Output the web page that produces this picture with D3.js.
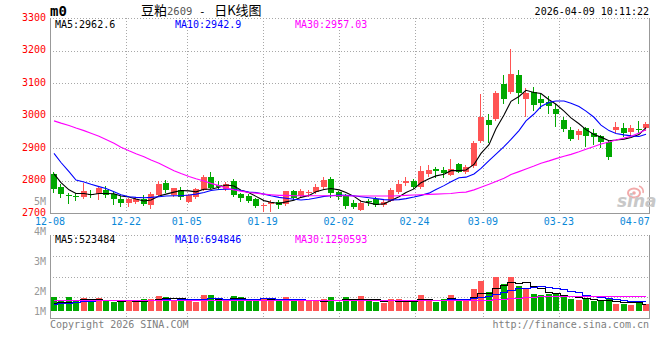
<!DOCTYPE html>
<html><head><meta charset="utf-8">
<script src="https://cdn.jsdelivr.net/npm/d3@7"></script>
<style>
body{margin:0;background:#fff}
svg{display:block}
text{font-family:"DejaVu Sans Mono",monospace;font-size:10px;white-space:pre}
</style>
</head><body>
<svg id="c" width="660" height="360"></svg>
<script>
// ---------------- DATA ----------------
const dates = ["12-08","12-09","12-10","12-11","12-12","12-15","12-16","12-17","12-18","12-19",
"12-22","12-23","12-24","12-25","12-26","12-29","12-30","12-31",
"01-05","01-06","01-07","01-08","01-09","01-12","01-13","01-14","01-15","01-16",
"01-19","01-20","01-21","01-22","01-23","01-26","01-27","01-28","01-29","01-30",
"02-02","02-03","02-04","02-05","02-06","02-09","02-10","02-11","02-12","02-13",
"02-24","02-25","02-26","02-27",
"03-02","03-03","03-04","03-05","03-06","03-09","03-10","03-11","03-12","03-13",
"03-16","03-17","03-18","03-19","03-20","03-23","03-24","03-25","03-26","03-27","03-30","03-31",
"04-01","04-02","04-03","04-07","04-08","04-09"];

const openP = [2820,2781,2755,2754,2751,2759,2758,2773,2758,2745,2733,2735,2744,2727,2757,2792,2755,2773,2735,2749,
2773,2812,2786,2775,2799,2760,2754,2745,2723,2729,2734,2730,2769,2753,2762,2765,2781,2805,2765,2754,
2732,2710,2737,2744,2726,2739,2766,2794,2799,2780,2821,2836,2833,2819,2852,2828,2845,2921,2987,2990,
3097,3074,3126,3051,3072,3051,3042,3021,2987,2956,2942,2962,2946,2936,2920,2955,2962,2950,2960,2961];
const highP = [2827,2789,2763,2762,2792,2772,2782,2785,2766,2753,2748,2749,2755,2764,2799,2802,2779,2782,2759,2777,
2817,2827,2798,2797,2805,2762,2759,2748,2733,2741,2741,2770,2772,2775,2772,2789,2810,2810,2770,2758,
2741,2741,2745,2749,2740,2779,2802,2812,2804,2845,2847,2843,2843,2867,2856,2847,2923,3067,3005,3077,
3126,3204,3141,3086,3087,3066,3061,3035,2995,2964,2960,2964,2959,2942,2923,2981,2977,2970,2984,2979];
const lowP = [2766,2751,2733,2741,2748,2751,2745,2749,2729,2723,2723,2731,2724,2717,2755,2766,2753,2745,2734,2747,
2771,2777,2776,2772,2754,2739,2736,2720,2708,2708,2715,2727,2743,2751,2753,2763,2779,2751,2744,2717,
2717,2710,2726,2722,2723,2737,2763,2788,2777,2777,2815,2811,2810,2817,2826,2825,2842,2919,2920,2988,
3038,3071,3040,2999,3018,3025,3007,2968,2954,2925,2929,2907,2913,2903,2868,2950,2939,2938,2949,2957];
const closeP = [2775,2759,2753,2750,2769,2755,2778,2755,2743,2733,2743,2745,2728,2759,2790,2773,2778,2749,2755,2775,
2813,2779,2781,2790,2757,2748,2739,2723,2726,2735,2726,2768,2747,2769,2764,2781,2802,2762,2749,2723,
2720,2732,2734,2724,2735,2772,2790,2799,2780,2830,2833,2831,2825,2836,2828,2843,2917,2996,2972,3071,
3052,3128,3071,3069,3034,3040,3029,3005,2960,2929,2953,2936,2934,2918,2874,2965,2948,2961,2959,2975];

const ma5 = [2821,2794,2772,2761,2761,2757,2761,2761,2760,2753,2750,2744,2738,2741,2753,2759,2765,2770,2769,2766,
2774,2774,2780,2787,2784,2771,2763,2752,2739,2734,2730,2735,2740,2749,2755,2766,2773,2776,2772,2764,
2752,2737,2732,2727,2729,2739,2751,2764,2775,2794,2806,2815,2820,2831,2831,2833,2850,2884,2911,2960,
3002,3044,3059,3078,3071,3068,3049,3035,3014,2993,2975,2957,2942,2934,2923,2925,2928,2933,2942,2963];
const ma10 = [2884,2856,2828,2802,2796,2789,2782,2776,2766,2757,2751,2749,2748,2749,2751,2753,2754,2754,2756,2759,
2764,2770,2773,2774,2774,2770,2765,2764,2759,2754,2749,2746,2743,2741,2743,2747,2752,2754,2756,2755,
2754,2751,2748,2745,2742,2741,2742,2745,2750,2755,2762,2773,2785,2797,2809,2811,2821,2838,2862,2882,
2905,2927,2954,2984,3005,3028,3041,3045,3045,3038,3028,3014,2995,2971,2954,2945,2941,2938,2936,2943];
const ma30 = [2984,2977,2970,2962,2954,2946,2937,2927,2915,2903,2892,2883,2874,2864,2854,2843,2831,2822,2813,2806,
2799,2792,2785,2778,2772,2768,2764,2762,2759,2757,2755,2755,2754,2754,2754,2754,2754,2754,2754,2754,
2753,2753,2753,2753,2753,2753,2754,2755,2756,2757,2758,2759,2760,2761,2764,2765,2772,2780,2789,2798,
2808,2819,2828,2836,2845,2854,2861,2868,2875,2881,2889,2897,2905,2913,2919,2925,2931,2937,2947,2957];

const volume = [1000000,738000,1000000,738000,929000,714000,929000,738000,667000,667000,
786000,690000,857000,857000,1095000,1000000,810000,833000,690000,667000,
1143000,1143000,714000,714000,1071000,1000000,714000,857000,929000,714000,
738000,1000000,714000,690000,690000,690000,857000,1000000,667000,1000000,
714000,1071000,714000,667000,571000,857000,857000,786000,667000,1143000,
714000,667000,857000,1143000,714000,714000,1571000,2143000,1357000,2452000,
1929000,2452000,1810000,1571000,1214000,1143000,1214000,1190000,1071000,857000,
786000,857000,714000,714000,857000,524000,524000,429000,714000,524000];
const volMa5 = [600000,610000,620000,650000,881000,824000,862000,810000,795000,743000,
757000,710000,733000,771000,857000,900000,924000,919000,886000,800000,
829000,895000,871000,876000,957000,928000,843000,871000,914000,843000,
790000,848000,819000,771000,766000,757000,728000,785000,781000,843000,
848000,890000,833000,833000,747000,776000,733000,748000,748000,862000,
833000,795000,810000,905000,819000,819000,1000000,1257000,1300000,1647000,
1890000,2067000,2000000,2043000,1795000,1638000,1390000,1266000,1166000,1095000,
1024000,952000,857000,786000,786000,733000,667000,610000,610000,523484];
const volMa10 = [520000,560000,600000,620000,680000,740000,760000,760000,770000,812000,
791000,786000,772000,783000,800000,829000,817000,826000,829000,829000,
864000,910000,895000,881000,879000,879000,869000,871000,895000,900000,
859000,845000,845000,843000,805000,774000,788000,802000,776000,805000,
802000,809000,809000,807000,795000,812000,812000,790000,790000,805000,
805000,764000,779000,826000,841000,826000,898000,1033000,1102000,1233000,
1355000,1533000,1629000,1671000,1721000,1764000,1729000,1633000,1605000,1445000,
1331000,1171000,1062000,976000,940000,878000,809000,733000,698000,694846];
const volMa30 = [770000,770000,770000,770000,770000,770000,770000,770000,770000,770000,
770000,770000,770000,770000,770000,770000,770000,770000,770000,770000,
770000,770000,770000,770000,770000,770000,770000,770000,770000,770000,
770000,770000,770000,770000,770000,770000,770000,770000,770000,770000,
770000,770000,770000,770000,770000,770000,770000,770000,770000,770000,
770000,770000,770000,770000,770000,770000,780000,800000,820000,850000,
880000,900000,930000,980000,1010000,1050000,1070000,1080000,1080000,1080000,
1080000,1085000,1085000,1090000,1090000,1090000,1095000,1095000,1100000,1100000];

const priceTicks = [2700,2800,2900,3000,3100,3200,3300];
const dateTicks = ["12-08","12-22","01-05","01-19","02-02","02-24","03-09","03-23","04-07"];
const volTickValues = [5,4,3,2,1];
const volTickLabels = ["5M","4M","3M","2M","1M"];
const priceLegend = ["MA5:2962.6","MA10:2942.9","MA30:2957.03"];
const volLegend = ["MA5:523484","MA10:694846","MA30:1250593"];
const titleParts = ["豆粕","2609"," - ","日K线图"];
const stamp = "2026-04-09 10:11:22";

// ---------------- LAYOUT ----------------
const L = 50, R = 650;
const pTop = 18, pBot = 213.3;
const vTop = 235, vBot = 318;
const UP = "#ff5454", DOWN = "#00a800";
const lineColors = ["#000000","#0000ff","#ff00ff"];
const legendX = [55,175,295];
const gridC = "#a8a8a8", borderC = "#999999";

const svg = d3.select("#c");
const xb = d3.scaleBand().domain(dates).range([L, R]).paddingInner(0.2).paddingOuter(0.1);
const xp = d3.scalePoint().domain(dates).range([L, R]);
const y = d3.scaleLinear().domain([2700,3300]).range([pBot, pTop]);
const yv = d3.scaleLinear().domain([0, 1e6]).range([311, 297]);
const yvLabel = d3.scaleLinear().domain([1,5]).range([320.7,200.7]);
const cx = d => Math.round(xb(d));
const crisp = v => Math.round(v) + 0.5;

const rows = dates.map((d,i)=>({d, o:openP[i], h:highP[i], l:lowP[i], c:closeP[i], v:volume[i]}));

// ---------------- GRID ----------------
const grid = svg.append("g").attr("shape-rendering","crispEdges")
  .attr("stroke",gridC).attr("stroke-dasharray","1,2").attr("fill","none");
grid.selectAll(".hp").data(priceTicks.slice(1)).join("line")
  .attr("x1",L).attr("x2",R).attr("y1",d=>crisp(y(d))).attr("y2",d=>crisp(y(d)));
const vgrid = dateTicks.slice(1,-1);
grid.selectAll(".vp").data(vgrid).join("line")
  .attr("x1",d=>crisp(xp(d))).attr("x2",d=>crisp(xp(d))).attr("y1",pTop).attr("y2",pBot);
grid.selectAll(".vv").data(vgrid).join("line")
  .attr("x1",d=>crisp(xp(d))).attr("x2",d=>crisp(xp(d))).attr("y1",vTop).attr("y2",vBot);
const vq = d3.range(1,5).map(k=>vTop + (vBot-vTop)*k/4);
grid.selectAll(".hv").data(vq.slice(0,3)).join("line")
  .attr("x1",L).attr("x2",R).attr("y1",d=>crisp(d)).attr("y2",d=>crisp(d));
grid.append("line").attr("x1",L).attr("x2",R).attr("y1",crisp(vTop)).attr("y2",crisp(vTop));

// borders
const bord = svg.append("g").attr("shape-rendering","crispEdges").attr("stroke",borderC).attr("fill","none");
bord.append("path").attr("d",`M${L+0.5},${pTop}V${crisp(pBot)}H${R-0.5}V${pTop}`);
bord.append("path").attr("d",`M${L+0.5},${vTop}V${crisp(vBot)}H${R-0.5}V${vTop}`);

// ---------------- WATERMARK ----------------
const wm = svg.append("g");
wm.append("ellipse").attr("cx",634).attr("cy",193).attr("rx",6).attr("ry",4.5)
  .attr("fill","none").attr("stroke","#f2aaaa").attr("stroke-width",2);
wm.append("circle").attr("cx",634).attr("cy",193).attr("r",1.8).attr("fill","#f2aaaa");
wm.append("path").attr("d","M639,186 q5,2 4,7").attr("fill","none").attr("stroke","#f2aaaa").attr("stroke-width",1.5);
wm.append("text").attr("x",617).attr("y",207).text("sina")
  .style("font-family","DejaVu Sans").style("font-style","italic").style("font-weight","bold")
  .style("font-size","17px").attr("fill","#c8c8c8");

// ---------------- CANDLES ----------------
const cg = svg.append("g").attr("shape-rendering","crispEdges");
const candle = cg.selectAll("g").data(rows).join("g");
candle.append("line")
  .attr("x1",d=>cx(d.d)+2.5).attr("x2",d=>cx(d.d)+2.5)
  .attr("y1",d=>Math.round(y(d.h))).attr("y2",d=>Math.round(y(d.l))+1)
  .attr("stroke",d=>d.c>d.o?UP:DOWN);
candle.append("rect")
  .attr("x",d=>cx(d.d)).attr("width",Math.round(xb.bandwidth()))
  .attr("y",d=>Math.round(y(Math.max(d.o,d.c))))
  .attr("height",d=>Math.max(1, Math.round(y(Math.min(d.o,d.c))) - Math.round(y(Math.max(d.o,d.c)))))
  .attr("fill",d=>d.c>d.o?UP:DOWN);

// price MA lines
const pl = d3.line().x((v,i)=>cx(dates[i])+3).y(v=>y(v));
[ma5,ma10,ma30].forEach((s,k)=>{
  svg.append("path").attr("d",pl(s)).attr("fill","none").attr("stroke",lineColors[k]).attr("stroke-width",1.1);
});

// ---------------- VOLUME ----------------
svg.append("g").attr("shape-rendering","crispEdges").selectAll("rect").data(rows).join("rect")
  .attr("x",d=>cx(d.d)).attr("width",Math.round(xb.bandwidth()))
  .attr("y",d=>Math.round(yv(d.v))).attr("height",d=>Math.round(yv(0))-Math.round(yv(d.v)))
  .attr("fill",d=>d.c>d.o?UP:DOWN);
const vl = d3.line().curve(d3.curveStep).x((v,i)=>cx(dates[i])+3).y(v=>Math.round(yv(v))+0.5);
[volMa5,volMa10,volMa30].forEach((s,k)=>{
  svg.append("path").attr("d",vl(s)).attr("fill","none").attr("stroke",lineColors[k])
    .attr("stroke-width",1).attr("shape-rendering","crispEdges");
});

// ---------------- TEXT ----------------
svg.selectAll(".pt").data(priceTicks).join("text")
  .attr("x",46).attr("y",d=>y(d)+2.5).attr("text-anchor","end").attr("fill","#ff0000").text(d=>d);
svg.selectAll(".vt").data(volTickValues).join("text")
  .attr("x",46).attr("y",d=>Math.min(yvLabel(d), vBot-7.3)+3.8).attr("text-anchor","end")
  .attr("fill","#999999").text((d,i)=>volTickLabels[i]);
svg.selectAll(".dt").data(dateTicks).join("text")
  .attr("x",d=>xp(d)).attr("y",225).attr("text-anchor","middle").attr("fill","#0a88d8").text(d=>d);

svg.selectAll(".pl").data(priceLegend).join("text")
  .attr("x",(d,i)=>legendX[i]).attr("y",27.5).attr("fill",(d,i)=>lineColors[i]).text(d=>d);
svg.selectAll(".vlg").data(volLegend).join("text")
  .attr("x",(d,i)=>legendX[i]).attr("y",242.5).attr("fill",(d,i)=>lineColors[i]).text(d=>d);

svg.append("text").attr("x",50).attr("y",15.5).text("m0")
  .style("font-weight","bold").style("font-size","14px").attr("fill","#000");
const cjk = "'Noto Sans CJK SC',sans-serif", mono = "'DejaVu Sans Mono',monospace";
const tt = svg.append("text").attr("x",141).attr("y",15).attr("fill","#000").style("font-size","13px");
tt.append("tspan").text(titleParts[0]).style("font-family",cjk);
tt.append("tspan").text(titleParts[1]).style("font-family",mono).style("font-size","10.5px").attr("fill","#555");
tt.append("tspan").text(titleParts[2]).style("font-family",mono).style("font-size","11px");
tt.append("tspan").text(titleParts[3]).style("font-family",cjk).attr("dx",2);
svg.append("text").attr("x",649).attr("y",15).attr("text-anchor","end").attr("fill","#000").text(stamp);

svg.append("text").attr("x",50).attr("y",327.5).attr("fill","#808080").text("Copyright 2026 SINA.COM");
svg.append("text").attr("x",649).attr("y",327.5).attr("text-anchor","end").attr("fill","#808080").text("http://finance.sina.com.cn");
</script>
</body></html>
